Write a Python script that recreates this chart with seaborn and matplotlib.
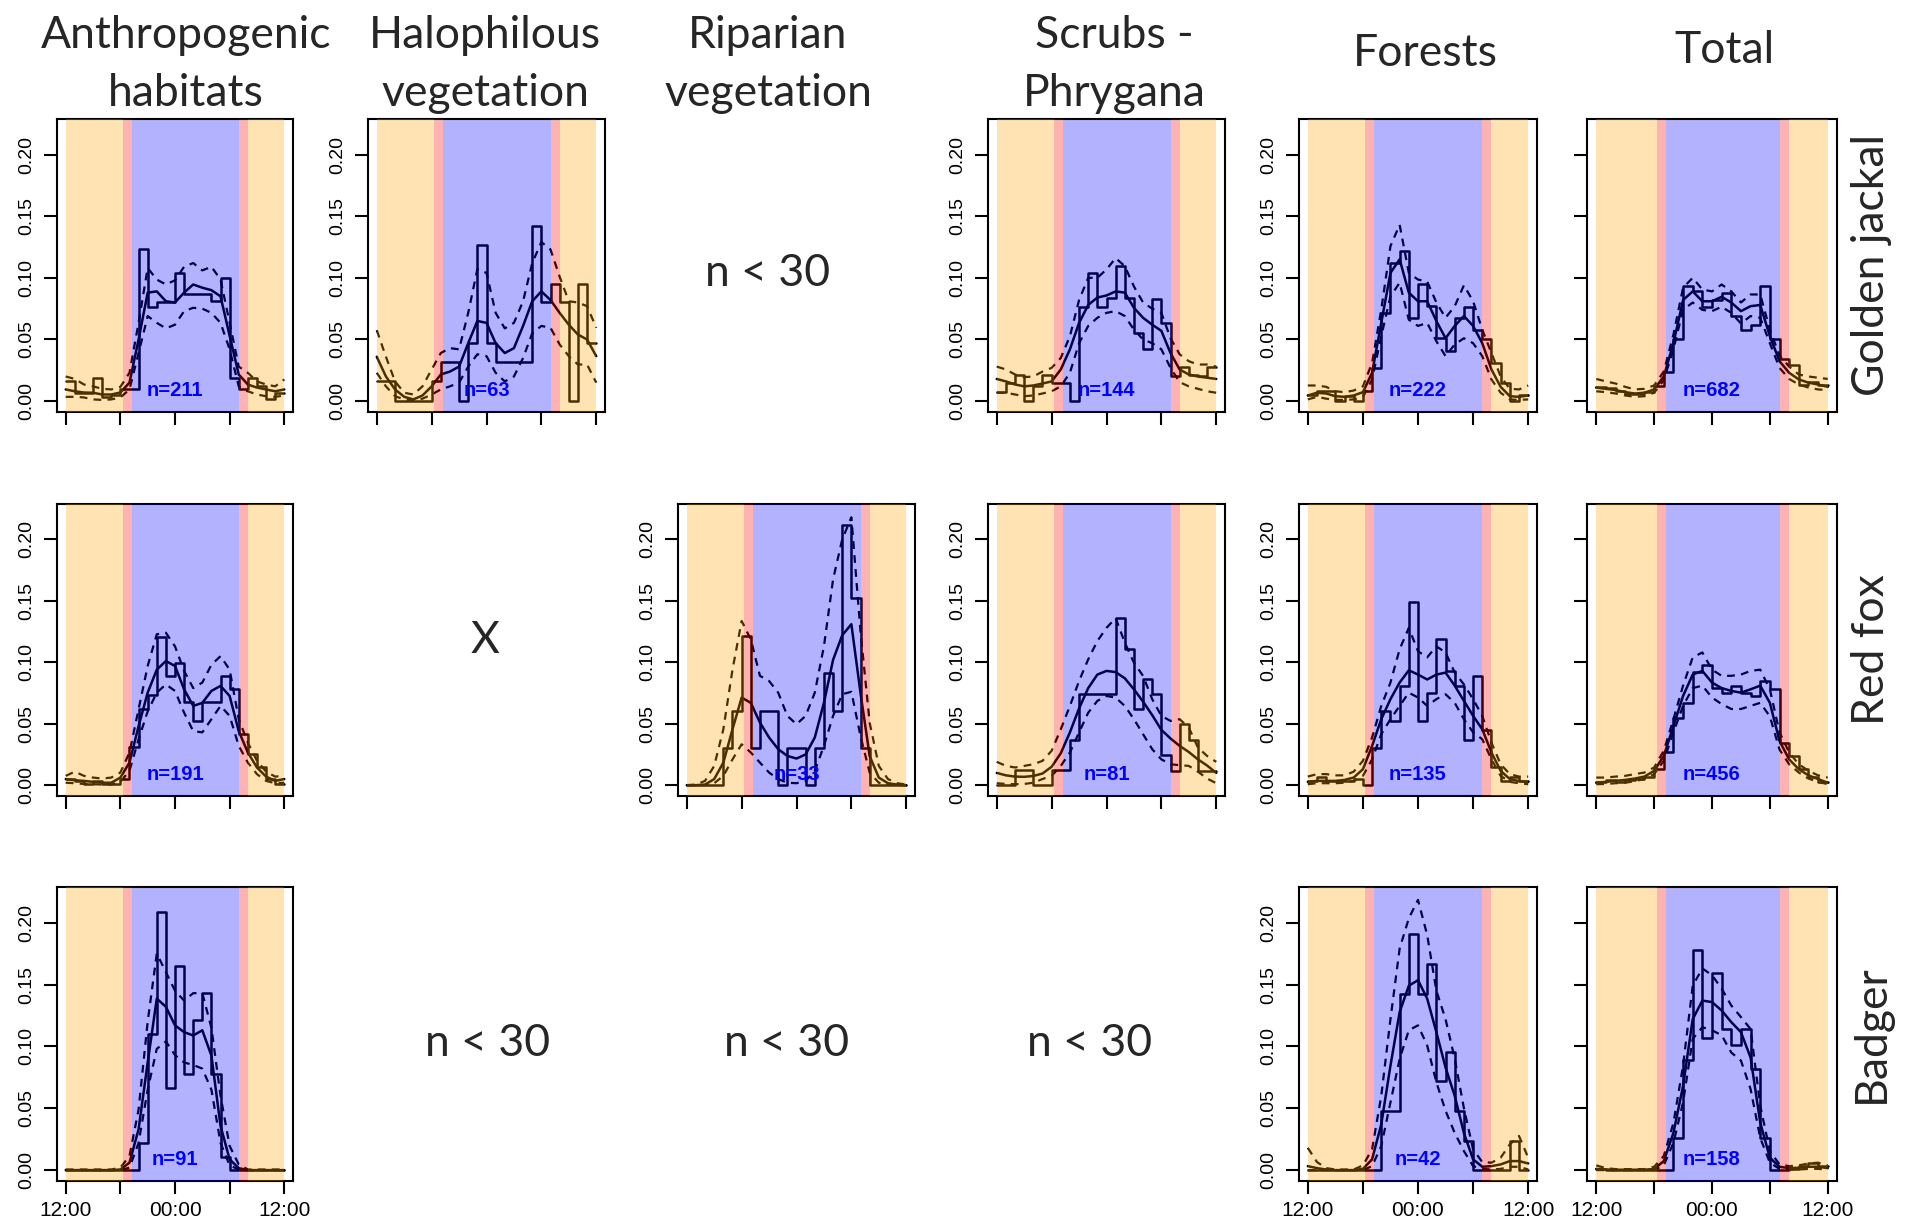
import numpy as np
import pandas as pd
import seaborn as sns
import matplotlib
matplotlib.use("Agg")
import matplotlib.pyplot as plt

sns.set_theme(style="white")
plt.rcParams['font.family'] = ['Liberation Sans', 'DejaVu Sans']

# x runs in hours after noon: 0 = 12:00, 12 = 00:00, 24 = 12:00
hours = np.arange(25)
bin_mid = np.arange(24) + 0.5

# light bands: day / twilight / night / twilight / day
band_edges = [0, 6.25, 7.25, 19.0, 20.0, 24]
band_colors = ['orange', 'red', 'blue', 'red', 'orange']

col_titles = [['Anthropogenic', 'habitats'], ['Halophilous', 'vegetation'], ['Riparian', 'vegetation'],
              ['Scrubs -', 'Phrygana'], ['Forests'], ['Total']]
row_titles = ['Golden jackal', 'Red fox', 'Badger']
y_ticks = [0, 0.05, 0.10, 0.15, 0.20]
y_ticklabels = ['0.00', '0.05', '0.10', '0.15', '0.20']
x_ticks = [0, 6, 12, 18, 24]
x_ticklabels = ['12:00', '', '00:00', '', '12:00']

# ---- Golden jackal ----
gj_anthro_hist = [0.016, 0.007, 0.007, 0.019, 0.003, 0.005, 0.010, 0.010, 0.123, 0.076, 0.080, 0.080,
                  0.104, 0.087, 0.087, 0.087, 0.081, 0.100, 0.019, 0.010, 0.019, 0.012, 0.002, 0.007]
gj_anthro_kde = [0.0095, 0.008, 0.007, 0.0068, 0.0054, 0.0054, 0.007, 0.015, 0.050, 0.088, 0.089, 0.081, 0.080,
                 0.088, 0.0946, 0.092, 0.090, 0.085, 0.053, 0.0216, 0.0135, 0.011, 0.0095, 0.008, 0.0095]
gj_anthro_lo = [0.0035, 0.0035, 0.003, 0.0014, 0.001, 0.0014, 0.003, 0.0095, 0.039, 0.069, 0.0635, 0.059, 0.062,
                0.073, 0.0757, 0.075, 0.0716, 0.0635, 0.042, 0.012, 0.008, 0.0054, 0.004, 0.0035, 0.0046]
gj_anthro_hi = [0.020, 0.018, 0.0135, 0.012, 0.010, 0.0095, 0.0116, 0.023, 0.0635, 0.108, 0.0986, 0.0946, 0.098,
                0.109, 0.112, 0.106, 0.109, 0.0986, 0.0635, 0.028, 0.023, 0.016, 0.0135, 0.012, 0.0176]

gj_halo_hist = [0.016, 0.016, 0, 0, 0, 0, 0.016, 0.032, 0.032, 0, 0.047, 0.127,
                0.047, 0.032, 0.032, 0.032, 0.032, 0.142, 0.080, 0.095, 0.080, 0, 0.095, 0.047]
gj_halo_kde = [0.036, 0.020, 0.0095, 0.0035, 0.0014, 0.0046, 0.012, 0.0216, 0.024, 0.028, 0.047, 0.065, 0.0635,
               0.047, 0.039, 0.043, 0.061, 0.081, 0.089, 0.082, 0.0716, 0.062, 0.054, 0.050, 0.0365]
gj_halo_lo = [0.023, 0.012, 0.004, 0.0014, 0.0005, 0.002, 0.0054, 0.0095, 0.012, 0.015, 0.028, 0.038, 0.0365,
              0.023, 0.016, 0.020, 0.035, 0.055, 0.061, 0.0595, 0.046, 0.0365, 0.0297, 0.0297, 0.015]
gj_halo_hi = [0.0576, 0.036, 0.016, 0.0068, 0.0054, 0.012, 0.0257, 0.039, 0.043, 0.042, 0.0716, 0.107, 0.104,
              0.0716, 0.059, 0.0635, 0.081, 0.112, 0.129, 0.123, 0.101, 0.081, 0.080, 0.077, 0.0595]

gj_scrub_hist = [0.0073, 0.015, 0.021, 0.0, 0.012, 0.021, 0.015, 0.015, 0.0, 0.0765, 0.104, 0.0765,
                 0.084, 0.110, 0.084, 0.055, 0.042, 0.083, 0.0635, 0.020, 0.028, 0.0216, 0.020, 0.028]
gj_scrub_kde = [0.018, 0.016, 0.0135, 0.012, 0.0127, 0.0143, 0.016, 0.0257, 0.042, 0.0635, 0.078, 0.084, 0.0857,
                0.089, 0.088, 0.0757, 0.0676, 0.062, 0.057, 0.039, 0.0257, 0.0216, 0.020, 0.019, 0.018]
gj_scrub_lo = [0.0068, 0.0068, 0.0054, 0.004, 0.0046, 0.0062, 0.008, 0.012, 0.023, 0.047, 0.061, 0.0676, 0.0716,
               0.073, 0.069, 0.058, 0.050, 0.047, 0.042, 0.027, 0.0154, 0.012, 0.010, 0.008, 0.0068]
gj_scrub_hi = [0.028, 0.0257, 0.0216, 0.0195, 0.020, 0.024, 0.027, 0.035, 0.0527, 0.082, 0.100, 0.100, 0.1068,
               0.116, 0.1095, 0.093, 0.080, 0.075, 0.0716, 0.051, 0.038, 0.0324, 0.0297, 0.0297, 0.028]

gj_forest_hist = [0.0046, 0.008, 0.008, 0.0, 0.004, 0.0, 0.008, 0.027, 0.0716, 0.112, 0.1216, 0.0676,
                  0.095, 0.077, 0.051, 0.0405, 0.0676, 0.0765, 0.058, 0.050, 0.031, 0.015, 0.0, 0.0046]
gj_forest_kde = [0.0046, 0.0068, 0.0062, 0.004, 0.0035, 0.0046, 0.0073, 0.023, 0.0635, 0.104, 0.115, 0.088, 0.081,
                 0.081, 0.065, 0.051, 0.061, 0.069, 0.061, 0.047, 0.0257, 0.0116, 0.004, 0.0035, 0.0046]
gj_forest_lo = [0.0014, 0.0035, 0.002, 0.001, 0.001, 0.0014, 0.0035, 0.0176, 0.0527, 0.085, 0.096, 0.066, 0.061,
                0.0635, 0.0486, 0.0365, 0.046, 0.051, 0.047, 0.0365, 0.0176, 0.0068, 0.0014, 0.001, 0.0014]
gj_forest_hi = [0.0127, 0.0127, 0.0116, 0.008, 0.0073, 0.0086, 0.012, 0.031, 0.0743, 0.1257, 0.143, 0.104, 0.0986,
                0.097, 0.080, 0.0676, 0.077, 0.094, 0.081, 0.058, 0.039, 0.020, 0.010, 0.0095, 0.0127]

gj_total_hist = [0.0116, 0.011, 0.008, 0.0062, 0.0062, 0.0073, 0.012, 0.024, 0.050, 0.093, 0.089, 0.076,
                 0.082, 0.088, 0.069, 0.0576, 0.062, 0.093, 0.050, 0.034, 0.029, 0.0135, 0.0154, 0.0127]
gj_total_kde = [0.011, 0.010, 0.009, 0.0073, 0.0062, 0.0068, 0.0095, 0.020, 0.047, 0.082, 0.089, 0.081, 0.081,
                0.0846, 0.080, 0.073, 0.077, 0.078, 0.0527, 0.0324, 0.023, 0.0176, 0.015, 0.0135, 0.0116]
gj_total_lo = [0.008, 0.0073, 0.0062, 0.0046, 0.0035, 0.004, 0.0068, 0.017, 0.042, 0.074, 0.080, 0.074, 0.073,
               0.0765, 0.0716, 0.063, 0.069, 0.0676, 0.047, 0.027, 0.018, 0.0135, 0.011, 0.0095, 0.009]
gj_total_hi = [0.018, 0.016, 0.0143, 0.0116, 0.0095, 0.010, 0.0127, 0.024, 0.054, 0.092, 0.100, 0.0905, 0.089,
               0.0946, 0.089, 0.080, 0.0865, 0.0865, 0.058, 0.037, 0.028, 0.0216, 0.020, 0.019, 0.018]

# ---- Red fox ----
rf_anthro_hist = [0.0054, 0.0035, 0.001, 0.0035, 0.001, 0.001, 0.005, 0.0314, 0.0623, 0.073, 0.1206, 0.089,
                  0.0997, 0.0678, 0.052, 0.0678, 0.0678, 0.0889, 0.0786, 0.0415, 0.025, 0.0144, 0.005, 0.001]
rf_anthro_kde = [0.005, 0.004, 0.0035, 0.0027, 0.002, 0.002, 0.0062, 0.0184, 0.048, 0.0753, 0.094, 0.101, 0.097,
                 0.078, 0.0645, 0.067, 0.0767, 0.0808, 0.0726, 0.044, 0.0266, 0.0144, 0.007, 0.0035, 0.005]
rf_anthro_lo = [0.002, 0.0016, 0.001, 0.0008, 0.0005, 0.0005, 0.0027, 0.0117, 0.0374, 0.060, 0.0753, 0.082, 0.0767,
                0.059, 0.044, 0.043, 0.0537, 0.0645, 0.0564, 0.032, 0.0184, 0.009, 0.0035, 0.0016, 0.002]
rf_anthro_hi = [0.0076, 0.011, 0.0076, 0.0062, 0.0054, 0.0062, 0.0103, 0.0266, 0.0618, 0.097, 0.1228, 0.124, 0.113,
                0.093, 0.079, 0.0835, 0.098, 0.105, 0.094, 0.0537, 0.0347, 0.0198, 0.011, 0.007, 0.0076]

rf_ripar_hist = [0, 0, 0, 0, 0.030, 0.060, 0.121, 0.030, 0.060, 0.060, 0, 0.030,
                 0.030, 0, 0.030, 0.091, 0.060, 0.212, 0.152, 0.030, 0, 0, 0, 0]
rf_ripar_kde = [0, 0, 0.0005, 0.005, 0.0184, 0.0455, 0.0713, 0.067, 0.051, 0.0388, 0.0293, 0.0238, 0.0217,
                0.025, 0.0388, 0.067, 0.102, 0.122, 0.131, 0.075, 0.0238, 0.0062, 0.0016, 0.0005, 0]
rf_ripar_lo = [0, 0, 0, 0.0016, 0.0076, 0.021, 0.0333, 0.0266, 0.0184, 0.0103, 0.005, 0.002, 0.0016,
               0.0035, 0.0117, 0.032, 0.0564, 0.074, 0.076, 0.040, 0.0103, 0.002, 0.0005, 0, 0]
rf_ripar_hi = [0, 0.0005, 0.0035, 0.0157, 0.0455, 0.094, 0.1336, 0.1187, 0.089, 0.0848, 0.0753, 0.0564, 0.0496,
               0.0564, 0.0753, 0.113, 0.1675, 0.200, 0.218, 0.125, 0.051, 0.0157, 0.005, 0.0016, 0.0005]

rf_scrub_hist = [0, 0, 0.012, 0.012, 0, 0, 0.012, 0.012, 0.037, 0.074, 0.074, 0.074,
                 0.074, 0.136, 0.111, 0.062, 0.086, 0.074, 0.0245, 0.0117, 0.0496, 0.037, 0.0117, 0.0117]
rf_scrub_kde = [0.010, 0.008, 0.007, 0.0068, 0.0075, 0.0095, 0.015, 0.026, 0.043, 0.0625, 0.079, 0.090, 0.093,
                0.092, 0.087, 0.078, 0.068, 0.057, 0.045, 0.038, 0.032, 0.027, 0.021, 0.016, 0.010]
rf_scrub_lo = [0.0016, 0.001, 0.0008, 0.001, 0.002, 0.005, 0.0076, 0.0157, 0.0266, 0.043, 0.059, 0.0686, 0.0726,
               0.0713, 0.0645, 0.0537, 0.0415, 0.0293, 0.021, 0.017, 0.0163, 0.0157, 0.011, 0.0054, 0.0016]
rf_scrub_hi = [0.019, 0.0157, 0.0144, 0.0157, 0.017, 0.0198, 0.028, 0.0455, 0.0645, 0.0848, 0.1024, 0.1173, 0.128,
               0.136, 0.116, 0.0997, 0.0889, 0.070, 0.0564, 0.0523, 0.0537, 0.0469, 0.0306, 0.0238, 0.019]

rf_forest_hist = [0.003, 0.007, 0.003, 0.003, 0.003, 0.005, 0.0, 0.030, 0.060, 0.052, 0.081, 0.149,
                  0.052, 0.075, 0.119, 0.093, 0.081, 0.037, 0.089, 0.045, 0.015, 0.003, 0.007, 0.003]
rf_forest_kde = [0.0027, 0.0035, 0.0035, 0.0035, 0.0043, 0.0062, 0.013, 0.032, 0.0537, 0.070, 0.0835, 0.0935, 0.090,
                 0.086, 0.090, 0.0916, 0.081, 0.0686, 0.0564, 0.0455, 0.0266, 0.0117, 0.005, 0.0033, 0.0027]
rf_forest_lo = [0.0008, 0.0016, 0.0016, 0.0016, 0.002, 0.0035, 0.0076, 0.021, 0.0415, 0.0537, 0.0645, 0.0753, 0.0713,
                0.0645, 0.070, 0.074, 0.067, 0.0537, 0.043, 0.0374, 0.021, 0.0076, 0.0027, 0.0016, 0.0008]
rf_forest_hi = [0.007, 0.009, 0.009, 0.008, 0.008, 0.011, 0.0198, 0.0388, 0.0645, 0.0835, 0.1106, 0.128, 0.109,
                0.104, 0.113, 0.108, 0.0916, 0.082, 0.070, 0.0564, 0.0347, 0.017, 0.009, 0.007, 0.007]

rf_total_hist = [0.0027, 0.0043, 0.0027, 0.0043, 0.0054, 0.007, 0.013, 0.0266, 0.055, 0.067, 0.092, 0.098,
                 0.079, 0.075, 0.081, 0.075, 0.0726, 0.085, 0.0786, 0.0347, 0.0238, 0.0135, 0.007, 0.0027]
rf_total_kde = [0.002, 0.0027, 0.0035, 0.0043, 0.0054, 0.007, 0.0117, 0.0238, 0.048, 0.0726, 0.090, 0.093, 0.0835,
                0.079, 0.0767, 0.0753, 0.078, 0.081, 0.067, 0.036, 0.021, 0.013, 0.008, 0.005, 0.002]
rf_total_lo = [0.0008, 0.001, 0.0016, 0.002, 0.0033, 0.005, 0.009, 0.0198, 0.043, 0.0645, 0.079, 0.081, 0.0713,
               0.066, 0.062, 0.062, 0.0645, 0.067, 0.056, 0.029, 0.017, 0.0103, 0.0054, 0.0027, 0.0008]
rf_total_hi = [0.0062, 0.0062, 0.007, 0.0076, 0.009, 0.0103, 0.0144, 0.028, 0.0537, 0.081, 0.104, 0.108, 0.094,
               0.089, 0.089, 0.090, 0.093, 0.094, 0.078, 0.043, 0.0266, 0.017, 0.0117, 0.008, 0.0062]

# ---- Badger ----
bd_anthro_hist = [0, 0, 0, 0, 0, 0, 0, 0, 0.022, 0.110, 0.209, 0.066,
                  0.165, 0.078, 0.121, 0.143, 0.078, 0.011, 0, 0, 0, 0, 0, 0]
bd_anthro_kde = [0, 0, 0, 0, 0, 0, 0.0005, 0.006, 0.033, 0.087, 0.1386, 0.132, 0.117,
                 0.1115, 0.1088, 0.113, 0.0925, 0.0357, 0.0087, 0.0016, 0, 0, 0, 0, 0]
bd_anthro_lo = [0, 0, 0, 0, 0, 0, 0, 0.002, 0.022, 0.065, 0.098, 0.104, 0.093,
                0.087, 0.085, 0.082, 0.065, 0.022, 0.0038, 0.0005, 0, 0, 0, 0, 0]
bd_anthro_hi = [0.0005, 0.0005, 0.0005, 0.0005, 0.0005, 0.0005, 0.002, 0.0114, 0.049, 0.12, 0.175, 0.160, 0.145,
                0.137, 0.143, 0.143, 0.115, 0.060, 0.0195, 0.0046, 0.0005, 0.0005, 0.0005, 0.0005, 0.0005]

bd_forest_hist = [0, 0, 0, 0, 0, 0, 0, 0, 0.048, 0.048, 0.1426, 0.1905,
                  0.1426, 0.1667, 0.0723, 0.0953, 0.048, 0.0235, 0, 0, 0, 0, 0.0235, 0]
bd_forest_kde = [0.0032, 0.0016, 0.0005, 0, 0, 0, 0.001, 0.0087, 0.037, 0.0844, 0.1277, 0.149, 0.1535,
                 0.1386, 0.1115, 0.083, 0.060, 0.030, 0.0087, 0.0027, 0.0032, 0.0046, 0.0073, 0.0073, 0.0054]
bd_forest_lo = [0, 0, 0, 0, 0, 0, 0, 0.0032, 0.0195, 0.0547, 0.0898, 0.113, 0.117,
                0.1007, 0.071, 0.048, 0.030, 0.0154, 0.0032, 0.001, 0.0005, 0.001, 0.0027, 0.0027, 0.0005]
bd_forest_hi = [0.018, 0.0065, 0.0016, 0.0005, 0.0005, 0.0005, 0.0038, 0.0168, 0.060, 0.122, 0.179, 0.2035, 0.2184,
                0.190, 0.145, 0.122, 0.090, 0.050, 0.0168, 0.0065, 0.006, 0.010, 0.0208, 0.0276, 0.010]

bd_total_hist = [0.001, 0, 0, 0, 0, 0, 0, 0, 0.026, 0.089, 0.178, 0.107,
                 0.159, 0.114, 0.101, 0.114, 0.082, 0.026, 0, 0, 0.001, 0.003, 0.006, 0.003]
bd_total_kde = [0.001, 0.0005, 0.0003, 0.0003, 0.0003, 0.0003, 0.001, 0.0073, 0.030, 0.068, 0.122, 0.137, 0.1358,
                0.129, 0.1196, 0.1115, 0.091, 0.0384, 0.010, 0.0027, 0.0016, 0.0019, 0.0027, 0.0027, 0.0016]
bd_total_lo = [0, 0, 0, 0, 0, 0, 0, 0.0038, 0.022, 0.0547, 0.106, 0.1155, 0.113,
               0.109, 0.095, 0.0885, 0.0655, 0.026, 0.006, 0.001, 0.0005, 0.0005, 0.001, 0.001, 0.0005]
bd_total_hi = [0.0038, 0.0016, 0.0008, 0.0008, 0.0008, 0.0008, 0.0027, 0.0114, 0.038, 0.0844, 0.149, 0.163, 0.1575,
               0.1467, 0.133, 0.1237, 0.114, 0.052, 0.0154, 0.0046, 0.0032, 0.0038, 0.0054, 0.006, 0.0038]

# (row, col, n label, hist, kde, lower, upper)
panels = [
    (0, 0, 'n=211', gj_anthro_hist, gj_anthro_kde, gj_anthro_lo, gj_anthro_hi),
    (0, 1, 'n=63', gj_halo_hist, gj_halo_kde, gj_halo_lo, gj_halo_hi),
    (0, 3, 'n=144', gj_scrub_hist, gj_scrub_kde, gj_scrub_lo, gj_scrub_hi),
    (0, 4, 'n=222', gj_forest_hist, gj_forest_kde, gj_forest_lo, gj_forest_hi),
    (0, 5, 'n=682', gj_total_hist, gj_total_kde, gj_total_lo, gj_total_hi),
    (1, 0, 'n=191', rf_anthro_hist, rf_anthro_kde, rf_anthro_lo, rf_anthro_hi),
    (1, 2, 'n=33', rf_ripar_hist, rf_ripar_kde, rf_ripar_lo, rf_ripar_hi),
    (1, 3, 'n=81', rf_scrub_hist, rf_scrub_kde, rf_scrub_lo, rf_scrub_hi),
    (1, 4, 'n=135', rf_forest_hist, rf_forest_kde, rf_forest_lo, rf_forest_hi),
    (1, 5, 'n=456', rf_total_hist, rf_total_kde, rf_total_lo, rf_total_hi),
    (2, 0, 'n=91', bd_anthro_hist, bd_anthro_kde, bd_anthro_lo, bd_anthro_hi),
    (2, 4, 'n=42', bd_forest_hist, bd_forest_kde, bd_forest_lo, bd_forest_hi),
    (2, 5, 'n=158', bd_total_hist, bd_total_kde, bd_total_lo, bd_total_hi),
]

# empty cells: (x px, y px, text)
notes = [(768, 273, 'n < 30'), (485, 641, 'X'),
         (488, 1043, 'n < 30'), (787, 1043, 'n < 30'), (1090, 1043, 'n < 30')]

W, H = 1921, 1225
col_px = [(57, 293), (368, 605), (678, 915), (988, 1225), (1299, 1537), (1587, 1837)]
row_px = [(119, 412), (504, 796), (887, 1181)]
title_x = [186, 485, 768, 1114, 1425, 1724]
title_base = [[48, 106], [48, 106], [48, 106], [48, 106], [66], [63]]
row_label_x = 1871

fig = plt.figure(figsize=(W / 100, H / 100), dpi=100)
big_font = ['Lato', 'DejaVu Sans']
dash = (0, (3.5, 2.8))

for r, c, nlab, hist, kde, lo, hi in panels:
    x0, x1 = col_px[c]
    y0, y1 = row_px[r]
    ax = fig.add_axes([x0 / W, 1 - y1 / H, (x1 - x0) / W, (y1 - y0) / H])

    hdf = pd.DataFrame({'hour': bin_mid, 'dens': hist})
    cdf = pd.DataFrame({'hour': hours, 'kde': kde, 'lo': lo, 'hi': hi})

    sns.histplot(data=hdf, x='hour', weights='dens', binwidth=1, binrange=(0, 24),
                 element='step', fill=False, color='black', linewidth=1.8, ax=ax)
    sns.lineplot(data=cdf, x='hour', y='kde', color='black', linewidth=1.8, ax=ax)
    sns.lineplot(data=cdf, x='hour', y='lo', color='black', linewidth=1.6, linestyle=dash, ax=ax)
    sns.lineplot(data=cdf, x='hour', y='hi', color='black', linewidth=1.6, linestyle=dash, ax=ax)

    for a, b, col in zip(band_edges[:-1], band_edges[1:], band_colors):
        ax.axvspan(a, b, color=col, alpha=0.3, lw=0, zorder=5)

    ax.text(12, 0.0087, nlab, ha='center', va='center', color='#0000ff',
            fontweight='bold', fontsize=14.5, zorder=10)

    ax.set_xlim(-0.96, 24.96)
    ax.set_ylim(-0.0088, 0.2288)
    ax.set_xlabel('')
    ax.set_ylabel('')
    ax.set_xticks(x_ticks)
    ax.set_xticklabels(x_ticklabels if r == 2 else [''] * 5)
    ax.set_yticks(y_ticks)
    ax.set_yticklabels(y_ticklabels if c != 5 else [''] * 5, rotation=90, va='center')
    ax.tick_params(axis='both', direction='out', length=9.5, width=1.5, color='black',
                   bottom=True, left=True, labelcolor='black')
    ax.tick_params(axis='x', labelsize=15, pad=5)
    ax.tick_params(axis='y', labelsize=14, pad=6)
    for sp in ax.spines.values():
        sp.set_visible(True)
        sp.set_color('black')
        sp.set_linewidth(1.5)

for tx, bases, lines in zip(title_x, title_base, col_titles):
    for by, t in zip(bases, lines):
        fig.text(tx / W, 1 - by / H, t, ha='center', va='baseline', fontsize=32, family=big_font)

for (y0, y1), t in zip(row_px, row_titles):
    fig.text(row_label_x / W, 1 - (y0 + y1) / 2 / H, t, ha='center', va='center',
             rotation=90, fontsize=32, family=big_font)

for nx, ny, t in notes:
    fig.text(nx / W, 1 - ny / H, t, ha='center', va='center', fontsize=32, family=big_font)

fig.savefig('out.png', dpi=100)
